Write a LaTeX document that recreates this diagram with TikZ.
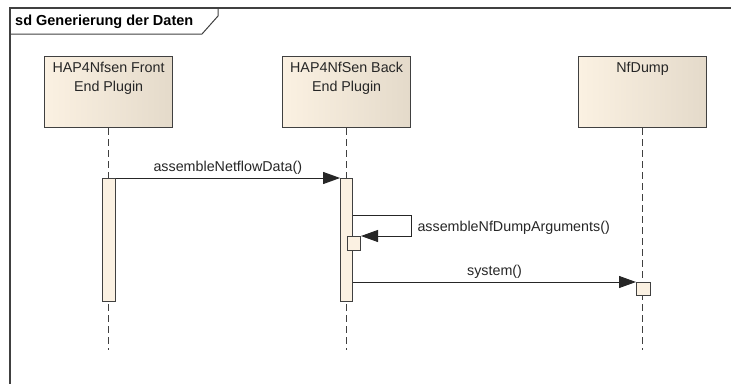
\documentclass[tikz,border=0pt]{standalone}
\usepackage{fontspec}
\setmainfont{Liberation Sans}
\usepackage{tikz}
\usetikzlibrary{calc,arrows.meta,positioning}
\definecolor{headfill}{RGB}{251,241,226}
\definecolor{headshade}{RGB}{228,218,202}
\definecolor{umlline}{RGB}{64,64,64}

\tikzset{
  lifehead/.style={draw=umlline,line width=1.2pt,minimum width=128pt,minimum height=71pt,
    left color=headfill,right color=headshade,shading angle=90,inner sep=0pt},
  headtext/.style={anchor=north,align=center,font=\fontsize{14.3}{19}\selectfont,text=black!85,yshift=-6pt,inner sep=0pt},
  actbar/.style={draw=umlline,line width=1pt,fill=headfill,minimum width=13pt,inner sep=0pt},
  lifeline/.style={umlline,line width=1.3pt,dash pattern=on 7pt off 4pt},
  msg/.style={black!85,line width=1pt,-{Triangle[length=17pt,width=12pt]}},
  msglabel/.style={font=\fontsize{14.3}{17}\selectfont,text=black!85,inner sep=1pt}
}

\begin{document}
\begin{tikzpicture}[x=1pt,y=-1pt,line cap=butt]
  \useasboundingbox (0,0) rectangle (731,383);
  \clip (0,0) rectangle (731,383);

  % --- frame with name tab ---
  \draw[umlline,line width=1.2pt] (10,8) rectangle (745,395);
  \draw[umlline,line width=1pt] (10,34) -- (202,34) -- (218,16) -- (218,8);
  \node[anchor=west,font=\fontsize{14.5}{17}\selectfont\bfseries,inner sep=0pt] (title) at (15,21.5) {sd Generierung der Daten};

  % --- lifeline heads ---
  \node[lifehead,anchor=north west,label={[headtext]north:HAP4Nfsen Front\\End Plugin}] (front) at (44,56) {};
  \node[lifehead,anchor=north west,label={[headtext]north:HAP4NfSen Back\\End Plugin}] (back) at (282,56) {};
  \node[lifehead,anchor=north west,label={[headtext]north:NfDump}] (dump) at (578,56) {};

  % lifelines
  \coordinate (frontend) at (front.south |- 0,350);
  \coordinate (backend) at (back.south |- 0,350);
  \coordinate (dumpend) at (dump.south |- 0,350);
  \draw[lifeline] (front.south) -- (frontend);
  \draw[lifeline] (back.south) -- (backend);
  \draw[lifeline] (dump.south) -- (dumpend);

  % --- activations ---
  \node[actbar,minimum height=123pt,anchor=north] (frontact) at (front.south |- 0,178) {};
  \node[actbar,minimum height=123pt,anchor=north,minimum width=12pt] (backact) at (back.south |- 0,178) {};
  \node[actbar,minimum height=14pt,minimum width=13pt,anchor=north west] (selfact) at (347,236) {};
  \node[actbar,minimum height=13pt,minimum width=14pt,anchor=north west] (dumpact) at (636,282) {};

  % --- messages ---
  \draw[msg] (frontact.north east) -- node[msglabel,above=2pt] (m1) {assembleNetflowData()} (backact.north west);
  \coordinate (selftop) at ([yshift=-37pt]backact.north east);
  \coordinate (selfturn) at (411,215);
  \draw[msg] (selftop) -- (selfturn) |- node[msglabel,pos=0.25,right=5pt,yshift=-2pt] (m2) {assembleNfDumpArguments()} (selfact.north east);
  \draw[msg] (backact.east |- dumpact.north) -- node[msglabel,above=2pt] (m3) {system()} (dumpact.north west);
\end{tikzpicture}
\end{document}
